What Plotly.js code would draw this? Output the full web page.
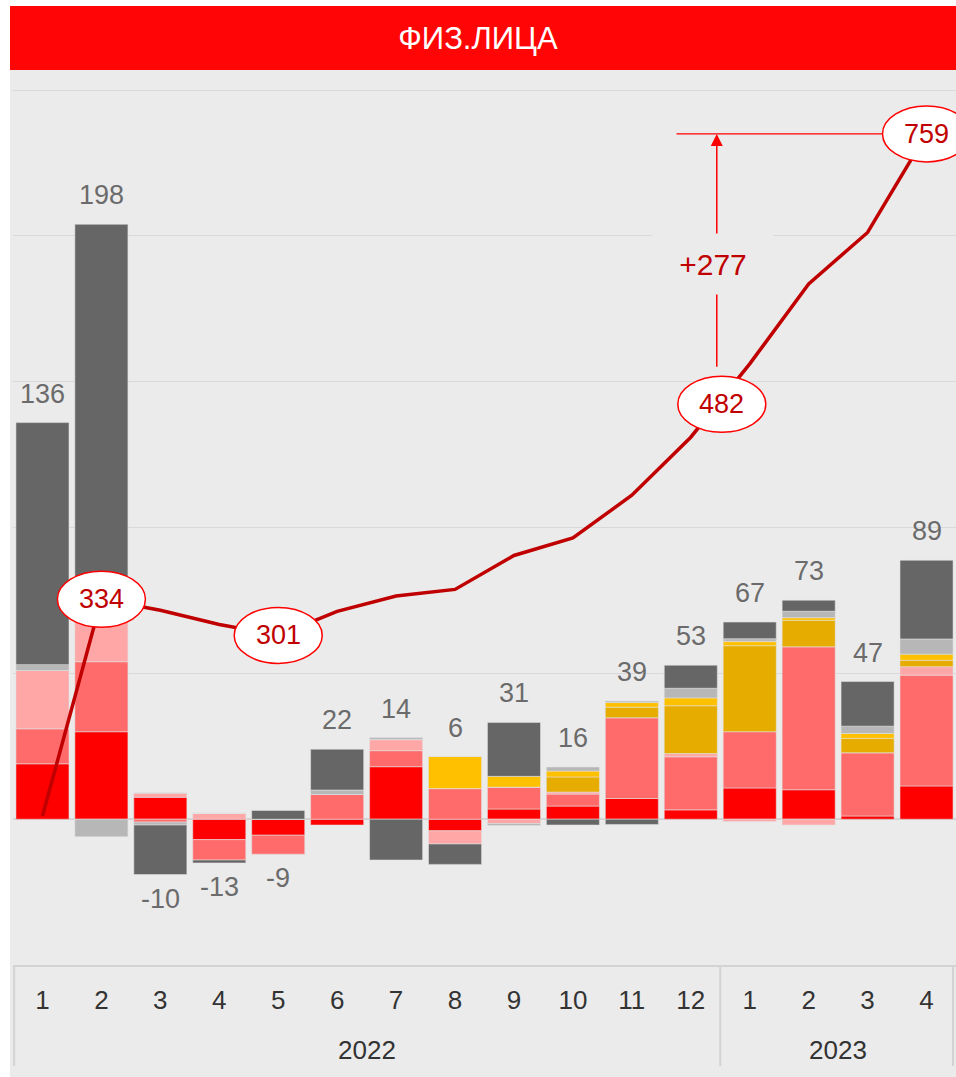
<!DOCTYPE html>
<html><head><meta charset="utf-8">
<script src="https://cdn.plot.ly/plotly-3.0.1.min.js"></script>
<style>html,body{margin:0;padding:0;background:#fff}#chart{width:956px;height:1077px}</style>
</head><body><div id="chart"></div>
<script>
// ---- data ----
const years  = ['2022','2022','2022','2022','2022','2022','2022','2022','2022','2022','2022','2022','2023','2023','2023','2023'];
const months = ['1','2','3','4','5','6','7','8','9','10','11','12','1','2','3','4'];

const segRed    = [19, 30, 7.5, -7, -5.5, -2, 18, -4, 3.5, 4.5, 7.1, 3.2, 10.7, 10.1, 1.1, 11.4];
const segSalmon = [12, 24, -1, -7, -6.5, 8.5, 5.5, 10.5, 7.5, 4.1, 27.7, 18.2, 19.3, 49, 21.7, 38];
const segPink   = [20, 16, 1.5, 2, 0, 0, 3.8, -4.5, -1.5, 0.7, 0, 1.1, -0.8, -2, 0, 2.9];
const segGold   = [0, 0, 0, 0, 0, 0, 0, 0, 0, 5.2, 3.6, 16.4, 29.5, 9.1, 4.9, 2.2];
const segYellow = [0, 0, 0, 0, 0, 0, 0, 11, 3.7, 2, 1.6, 2.7, 1.4, 0.9, 1.7, 2.1];
const segLGray  = [2, -6, -1, 0, 0, 1.5, 0.7, 0, -0.7, 1.4, 0.5, 3.3, 1, 2.2, 2.5, 5.2];
const segDGray  = [83, 134, -17, -1, 3, 14, -14, -7, 18.5, -2, -1.8, 7.9, 5.7, 3.8, 15.3, 27];

const totals     = [136, 198, -10, -13, -9, 22, 14, 6, 31, 16, 39, 53, 67, 73, 47, 89];
const cumulative = [136, 334, 324, 311, 301, 323, 337, 343, 374, 390, 429, 482, 549, 622, 669, 759];

const bubbleIdx = [1, 4, 11, 15];

// ---- styling ----
const series = [
  {y: segRed,    color: '#ff0000'},
  {y: segSalmon, color: '#ff6b6b'},
  {y: segPink,   color: '#ffa6a6'},
  {y: segGold,   color: '#e6ac00'},
  {y: segYellow, color: '#ffc000'},
  {y: segLGray,  color: '#b7b7b7'},
  {y: segDGray,  color: '#666666'}
];
const FONT = 'Liberation Sans, Arial, sans-serif';
const N = months.length;
const keys = months.map((m, i) => years[i] + '-' + m);

const traces = series.map(s => ({
  type: 'bar', x: keys, y: s.y,
  marker: {color: s.color, line: {color: 'rgba(225,225,225,0.55)', width: 1}},
  hoverinfo: 'skip'
}));
traces.push({
  type: 'scatter', mode: 'lines', x: keys, y: cumulative, yaxis: 'y2',
  line: {color: '#c00000', width: 3.5}, hoverinfo: 'skip'
});

// paper helpers
const L = 13, T = 89, PW = 943, PH = 876;
const px = v => (v - L) / PW;
const py = v => 1 - (v - T) / PH;

const shapes = [
  {type:'rect', xref:'paper', yref:'paper', x0:px(0), x1:px(10), y0:py(1077), y1:py(0), fillcolor:'#ffffff', line:{width:0}, layer:'below'},
  {type:'rect', xref:'paper', yref:'paper', x0:px(0), x1:px(956), y0:py(6), y1:py(0), fillcolor:'#ffffff', line:{width:0}, layer:'below'},
  {type:'rect', xref:'paper', yref:'paper', x0:px(10), x1:px(956), y0:py(70), y1:py(6), fillcolor:'#ff0505', line:{width:0}, layer:'below'}
];
const annotations = [];

// year groups: dividers + labels
const groups = [];
years.forEach((y, i) => {
  if (!groups.length || groups[groups.length - 1].year !== y) groups.push({year: y, start: i, end: i});
  else groups[groups.length - 1].end = i;
});
const divX = [groups[0].start - 0.5].concat(groups.map(g => g.end + 0.5));
divX.forEach(b => {
  const xp = Math.min(Math.max((b + 0.5) / N, 0.0012), 0.9968);
  shapes.push({type:'line', xref:'paper', yref:'paper', x0:xp, x1:xp, y0:0, y1:py(1066),
               line:{color:'#d3d3d3', width:2}, layer:'above'});
});
groups.forEach(g => {
  annotations.push({xref:'x2', yref:'paper', x:(g.start + g.end) / 2, y:py(1050), yanchor:'middle',
    text:g.year, showarrow:false, font:{family:FONT, size:26, color:'#333333'}});
});

// total labels
totals.forEach((t, i) => {
  let pos = 0, neg = 0;
  series.forEach(s => { if (s.y[i] > 0) pos += s.y[i]; else neg += s.y[i]; });
  const up = t >= 0;
  annotations.push({
    xref:'x2', yref:'y', x:i, y: up ? pos : neg, text: String(t), showarrow:false,
    yanchor: up ? 'bottom' : 'top', yshift: up ? 12 : -7,
    font:{family:FONT, size:27, color:'#6b6b6b'}
  });
});

// cumulative bubbles
bubbleIdx.forEach(i => {
  const off = (i === 11) ? [31, 33] : [0, 0];
  shapes.push({
    type:'circle', xref:'x2', yref:'y2', xsizemode:'pixel', ysizemode:'pixel',
    xanchor:i, yanchor:cumulative[i],
    x0:-44 + off[0], x1:44 + off[0], y0:-28 + off[1], y1:28 + off[1],
    fillcolor:'#ffffff', line:{color:'#ff0000', width:1.5}, layer:'above'
  });
  annotations.push({
    xref:'x2', yref:'y2', x:i, y:cumulative[i], xshift:off[0], yshift:off[1],
    text:String(cumulative[i]), showarrow:false,
    font:{family:FONT, size:27, color:'#c00000'}
  });
});

const a = 11, b = 15;
shapes.push({
  type:'line', xref:'x2', yref:'y2', xsizemode:'pixel', xanchor:b,
  x0:-250, x1:-44, y0:cumulative[b], y1:cumulative[b],
  line:{color:'#ff0000', width:1.2}, layer:'above'
});
annotations.push({
  xref:'x2', yref:'y2', x:a, y:cumulative[b], axref:'x2', ayref:'y2', ax:a, ay:cumulative[a],
  xshift:26, text:' ', showarrow:true, arrowhead:2, arrowsize:1.6, arrowwidth:1.5,
  arrowcolor:'#ff0000', startstandoff:62, standoff:0
});
annotations.push({
  xref:'x2', yref:'y2', x:a, y:(cumulative[a] + cumulative[b]) / 2, xshift:22, yshift:22,
  text:'+' + (cumulative[b] - cumulative[a]), showarrow:false,
  bgcolor:'#ebebeb', width:100, height:40, borderpad:10,
  font:{family:FONT, size:30, color:'#c00000'}
});

const layout = {
  width:956, height:1077,
  margin:{l:L, r:0, t:T, b:1077 - T - PH, pad:0},
  paper_bgcolor:'#ebebeb', plot_bgcolor:'rgba(0,0,0,0)',
  barmode:'relative', bargap:0.1, showlegend:false,
  font:{family:FONT},
  title:{text:'ФИЗ.ЛИЦА', font:{family:FONT, color:'#ffffff', size:31},
         x:0.5, xanchor:'center', xref:'container', y:1 - 38/1077, yanchor:'middle', yref:'container'},
  xaxis:{type:'category', range:[-0.5, N - 0.5], tickmode:'array', tickvals:keys, ticktext:months,
         showline:true, linecolor:'#d3d3d3', linewidth:2, ticks:'outside', ticklen:11, tickcolor:'rgba(0,0,0,0)',
         tickfont:{family:FONT, size:26, color:'#333333'}, showgrid:false, zeroline:false, fixedrange:true},
  xaxis2:{overlaying:'x', range:[-0.5, N - 0.5], visible:false, fixedrange:true},
  yaxis:{range:[-50, 250.4], tick0:0, dtick:50, showticklabels:false, ticks:'', gridcolor:'#d9d9d9', gridwidth:1,
         zeroline:true, zerolinecolor:'#d4d4d4', zerolinewidth:2, fixedrange:true},
  yaxis2:{overlaying:'y', range:[0, 800], visible:false, fixedrange:true},
  shapes:shapes, annotations:annotations
};

Plotly.newPlot('chart', traces, layout, {displayModeBar:false, staticPlot:true});
</script></body></html>
